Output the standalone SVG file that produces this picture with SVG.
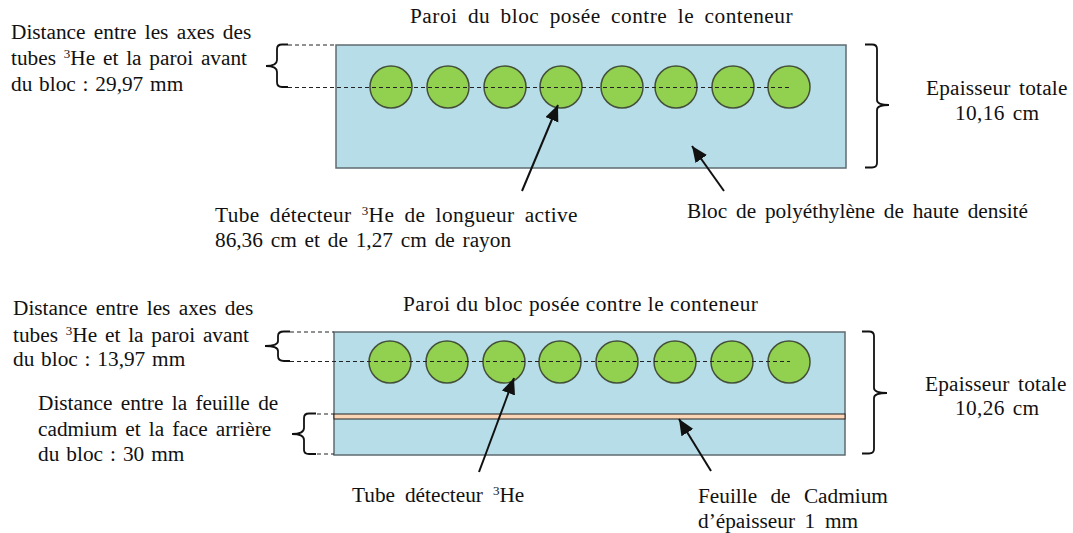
<svg xmlns="http://www.w3.org/2000/svg" width="1073" height="533" viewBox="0 0 1073 533">
<style>
text{font-family:"Liberation Serif","Times New Roman",serif;font-size:21.3px;fill:#111}
tspan.s{font-size:13px}
.block{fill:#b7dde8;stroke:#5f6b70;stroke-width:1.5}
.tube{fill:#92d050;stroke:#44513a;stroke-width:1.5}
.cad{fill:#fbd5b5;stroke:#222;stroke-width:1}
.dash{fill:none;stroke:#222;stroke-width:1;stroke-dasharray:4 3}
.brace{fill:none;stroke:#111;stroke-width:1.8}
.arrow{fill:none;stroke:#111;stroke-width:2;marker-end:url(#ah)}
</style>
<defs><marker id="ah" markerUnits="userSpaceOnUse" markerWidth="18" markerHeight="16" refX="16" refY="7" orient="auto"><path d="M0 0L16 7L0 14Z" fill="#111"/></marker></defs>
<g id="block-top">
<rect class="block" x="336" y="45" width="510" height="123"/>
<g id="tubes-top">
<circle class="tube" cx="391" cy="87" r="21"/><circle class="tube" cx="448" cy="87" r="21"/><circle class="tube" cx="505" cy="87" r="21"/><circle class="tube" cx="561" cy="87" r="21"/><circle class="tube" cx="622" cy="87" r="21"/><circle class="tube" cx="676" cy="87" r="21"/><circle class="tube" cx="733" cy="87" r="21"/><circle class="tube" cx="789" cy="87" r="21"/>
</g></g>
<g id="block-bottom">
<rect class="block" x="334" y="332" width="511" height="123"/>
<rect class="cad" x="334" y="414" width="511" height="5"/>
<g id="tubes-bottom">
<circle class="tube" cx="390" cy="362" r="21"/><circle class="tube" cx="447" cy="362" r="21"/><circle class="tube" cx="504" cy="362" r="21"/><circle class="tube" cx="560" cy="362" r="21"/><circle class="tube" cx="617" cy="362" r="21"/><circle class="tube" cx="675" cy="362" r="21"/><circle class="tube" cx="732" cy="362" r="21"/><circle class="tube" cx="789" cy="362" r="21"/>
</g></g>
<g id="connectors">
<path class="dash" d="M288 45H336M288 87.500H790"/>
<path class="dash" d="M290 332H334M290 361.500H790M317 414H334M317 454H334"/>
<path class="brace" d="M288 44.500H282Q277 44.500 277 49V60Q277 66 266 66Q277 66 277 72V82Q277 87 282 87H288"/>
<path class="brace" d="M290 331.500H284Q278 331.500 278 336V341Q278 346 265 346Q278 346 278 351V356Q278 361 284 361H290"/>
<path class="brace" d="M316 413.500H309Q304 413.500 304 418V428Q304 434 292 434Q304 434 304 440V450Q304 454 309 454H316"/>
<path class="brace" d="M865 44.500H872Q877 44.500 877 49V100Q877 105 889 105Q877 105 877 110V163Q877 167.500 872 167.500H865"/>
<path class="brace" d="M862 331.500H869Q874 331.500 874 336V388Q874 393 887 393Q874 393 874 398V449Q874 453.500 869 453.500H862"/>
<path class="arrow" d="M522 191L558 105"/>
<path class="arrow" d="M724 191L692 146"/>
<path class="arrow" d="M479 472L514 378"/>
<path class="arrow" d="M711 471L679 419"/>
</g>
<g id="labels">
<text x="410" y="23" word-spacing="4.6" letter-spacing="0.5">Paroi du bloc posée contre le conteneur</text>
<text x="11" y="39" word-spacing="3">Distance entre les axes des</text>
<text x="11" y="65" word-spacing="2.5">tubes <tspan class="s" dy="-7">3</tspan><tspan dy="7">He et la paroi avant</tspan></text>
<text x="11" y="91" word-spacing="1.5">du bloc : 29,97 mm</text>
<text x="926" y="95" word-spacing="3" letter-spacing="0.2">Epaisseur totale</text>
<text x="955" y="120" word-spacing="2" letter-spacing="0.4">10,16 cm</text>
<text x="215" y="222" word-spacing="4.5" letter-spacing="0.4">Tube détecteur <tspan class="s" dy="-7">3</tspan><tspan dy="7">He de longueur active</tspan></text>
<text x="215" y="247" word-spacing="2.5">86,36 cm et de 1,27 cm de rayon</text>
<text x="687" y="218" word-spacing="3.5">Bloc de polyéthylène de haute densité</text>
<text x="403" y="311" letter-spacing="0.5">Paroi du bloc posée contre le conteneur</text>
<text x="13" y="315" word-spacing="3">Distance entre les axes des</text>
<text x="13" y="342" word-spacing="2.5">tubes <tspan class="s" dy="-7">3</tspan><tspan dy="7">He et la paroi avant</tspan></text>
<text x="13" y="366" word-spacing="1.5">du bloc : 13,97 mm</text>
<text x="38" y="410" word-spacing="3">Distance entre la feuille de</text>
<text x="38" y="436" word-spacing="2.75">cadmium et la face arrière</text>
<text x="38" y="461" word-spacing="1.7">du bloc : 30 mm</text>
<text x="925" y="391" word-spacing="3" letter-spacing="0.2">Epaisseur totale</text>
<text x="955" y="415" word-spacing="2" letter-spacing="0.4">10,26 cm</text>
<text x="352" y="502" word-spacing="4.6">Tube détecteur <tspan class="s" dy="-7">3</tspan><tspan dy="7">He</tspan></text>
<text x="698" y="503" word-spacing="8">Feuille de Cadmium</text>
<text x="698" y="528" word-spacing="4.3">d’épaisseur 1 mm</text>
</g>
</svg>
